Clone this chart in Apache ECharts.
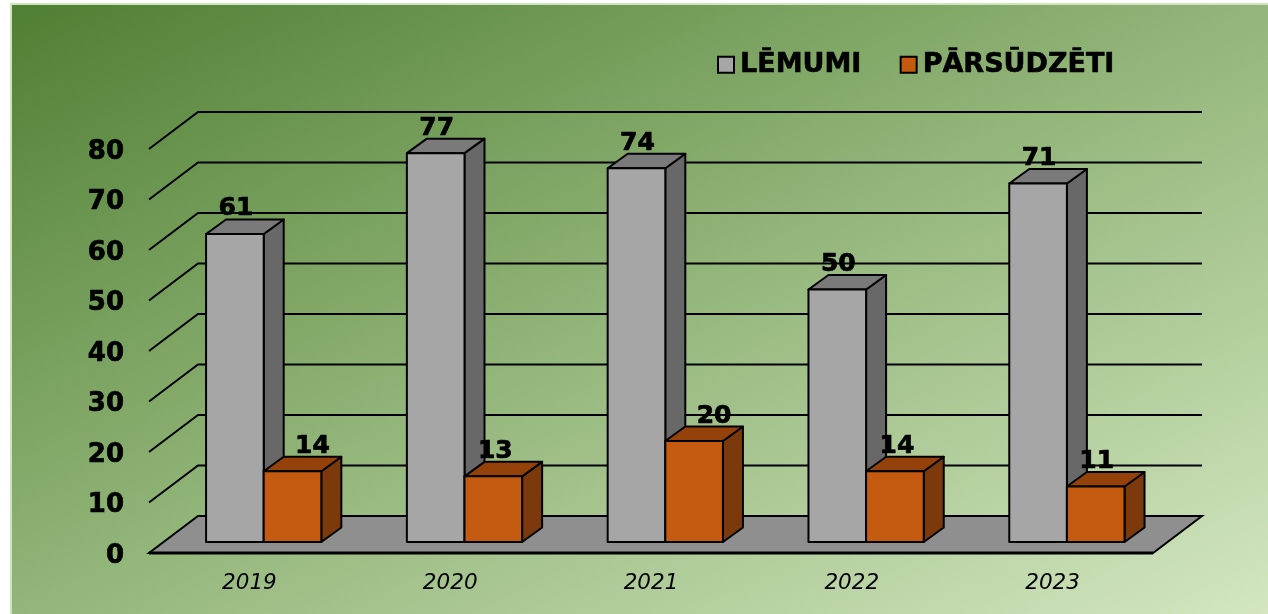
<!DOCTYPE html>
<html>
<head>
<meta charset="utf-8">
<style>
  html, body { margin: 0; padding: 0; background: #fff; }
  #main { width: 1268px; height: 614px; }
</style>
</head>
<body>
<div id="main"></div>
<script src="https://cdn.jsdelivr.net/npm/echarts@6/dist/echarts.min.js"></script>
<script>
var years = ["2019", "2020", "2021", "2022", "2023"];
var lemumi = [61, 77, 74, 50, 71];
var parsudzeti = [14, 13, 20, 14, 11];
var yTicks = [0, 10, 20, 30, 40, 50, 60, 70, 80];

// hand placed labels of the orange bars
var orangeLabelDx = [19, 1, 19, 1, 0];

var FONT = '"DejaVu Sans", Verdana, sans-serif';
var wallDx = 49, wallDy = -37;   // front edge -> back wall
var barDx = 14.3, barDy = -11;   // front edge -> front of bar
var sideDx = 20, sideDy = -14.5; // depth of a bar

function gridItem(params, api) {
  var sys = params.coordSys;
  var v = api.value(0);
  var y = api.coord([0, v])[1];
  var left = sys.x, right = sys.x + sys.width;
  var line = { stroke: "#000", lineWidth: 2, fill: null };
  if (v === 0) {
    return {
      type: "group",
      children: [
        {
          type: "polygon",
          shape: { points: [[left, y], [right, y], [right + wallDx, y + wallDy], [left + wallDx, y + wallDy]] },
          style: { fill: "#8f8f8f", stroke: "#000", lineWidth: 2 }
        },
        { type: "line", shape: { x1: left, y1: y, x2: right, y2: y }, style: { stroke: "#000", lineWidth: 3 } }
      ]
    };
  }
  return {
    type: "polyline",
    shape: { points: [[left, y], [left + wallDx, y + wallDy], [right + wallDx, y + wallDy]] },
    style: line
  };
}

function barRenderer(side, colors, labelDx) {
  return function (params, api) {
    var i = api.value(0);
    var val = api.value(1);
    var top = api.coord([i, val]);
    var base = api.coord([i, 0]);
    var w = api.size([1, 0])[0] * 0.287;
    var x0 = top[0] + barDx + (side === 0 ? -w : 0);
    var x1 = x0 + w;
    var yT = top[1] + barDy;
    var yB = base[1] + barDy;
    var edge = { stroke: "#000", lineWidth: 2, lineJoin: "round" };
    return {
      type: "group",
      children: [
        {
          type: "polygon",
          shape: { points: [[x1, yT], [x1 + sideDx, yT + sideDy], [x1 + sideDx, yB + sideDy], [x1, yB]] },
          style: Object.assign({ fill: colors.side }, edge)
        },
        {
          type: "polygon",
          shape: { points: [[x0, yT], [x0 + sideDx, yT + sideDy], [x1 + sideDx, yT + sideDy], [x1, yT]] },
          style: Object.assign({ fill: colors.top }, edge)
        },
        {
          type: "rect",
          shape: { x: x0, y: yT, width: w, height: yB - yT },
          style: Object.assign({ fill: colors.front }, edge)
        },
        {
          type: "text",
          style: {
            x: (x0 + x1) / 2 + 1 + (labelDx ? labelDx[i] : 0),
            y: yT - 25,
            text: String(val),
            font: "bold 25px " + FONT,
            fill: "#000",
            stroke: "#000",
            lineWidth: 0.7,
            align: "center",
            verticalAlign: "middle"
          }
        }
      ]
    };
  };
}

var chart = echarts.init(document.getElementById("main"));
chart.setOption({
  animation: false,
  backgroundColor: "#fff",
  graphic: [{
    type: "rect",
    z: -10,
    silent: true,
    shape: { x: 11, y: 4, width: 1258, height: 611 },
    style: {
      stroke: "#cfe3bd",
      lineWidth: 2,
      fill: new echarts.graphic.LinearGradient(12, 5, 491, 992, [
        { offset: 0, color: "#4f7f33" },
        { offset: 0.5, color: "#93b67a" },
        { offset: 1, color: "#d3e6c0" }
      ], true)
    }
  }],
  legend: {
    left: 712,
    top: 46,
    itemWidth: 16,
    itemHeight: 16,
    itemGap: 38,
    icon: "rect",
    selectedMode: false,
    textStyle: {
      fontFamily: FONT, fontWeight: "bold", fontSize: 27, color: "#000",
      padding: [0, 0, 0, 1], textBorderColor: "#000", textBorderWidth: 0.6
    },
    data: [
      { name: "LĒMUMI", itemStyle: { color: "#a6a6a6", borderColor: "#000", borderWidth: 2 } },
      { name: "PĀRSŪDZĒTI", itemStyle: { color: "#c55a11", borderColor: "#000", borderWidth: 2 } }
    ]
  },
  grid: { left: 149, right: 115, top: 149, bottom: 61 },
  xAxis: {
    type: "category",
    data: years,
    axisLine: { show: false },
    axisTick: { show: false },
    axisLabel: { margin: 19, fontFamily: FONT, fontStyle: "italic", fontSize: 21.5, color: "#000" }
  },
  yAxis: {
    type: "value",
    min: 0,
    max: 80,
    interval: 10,
    splitLine: { show: false },
    axisLine: { show: false },
    axisTick: { show: false },
    axisLabel: {
      margin: 25, fontFamily: FONT, fontWeight: "bold", fontSize: 26, color: "#000",
      verticalAlign: "top", lineHeight: 6, textBorderColor: "#000", textBorderWidth: 0.7
    }
  },
  series: [
    {
      type: "custom",
      name: "walls",
      z: 1,
      silent: true,
      clip: false,
      renderItem: gridItem,
      encode: { y: 0 },
      data: yTicks.map(function (v) { return [v]; })
    },
    {
      type: "custom",
      name: "LĒMUMI",
      z: 2,
      clip: false,
      itemStyle: { color: "#a6a6a6" },
      renderItem: barRenderer(0, { front: "#a6a6a6", top: "#7a7a7a", side: "#686868" }),
      encode: { x: 0, y: 1 },
      data: lemumi.map(function (v, i) { return [i, v]; })
    },
    {
      type: "custom",
      name: "PĀRSŪDZĒTI",
      z: 3,
      clip: false,
      itemStyle: { color: "#c55a11" },
      renderItem: barRenderer(1, { front: "#c55a11", top: "#94420a", side: "#7c3a0c" }, orangeLabelDx),
      encode: { x: 0, y: 1 },
      data: parsudzeti.map(function (v, i) { return [i, v]; })
    }
  ]
});
</script>
</body>
</html>
